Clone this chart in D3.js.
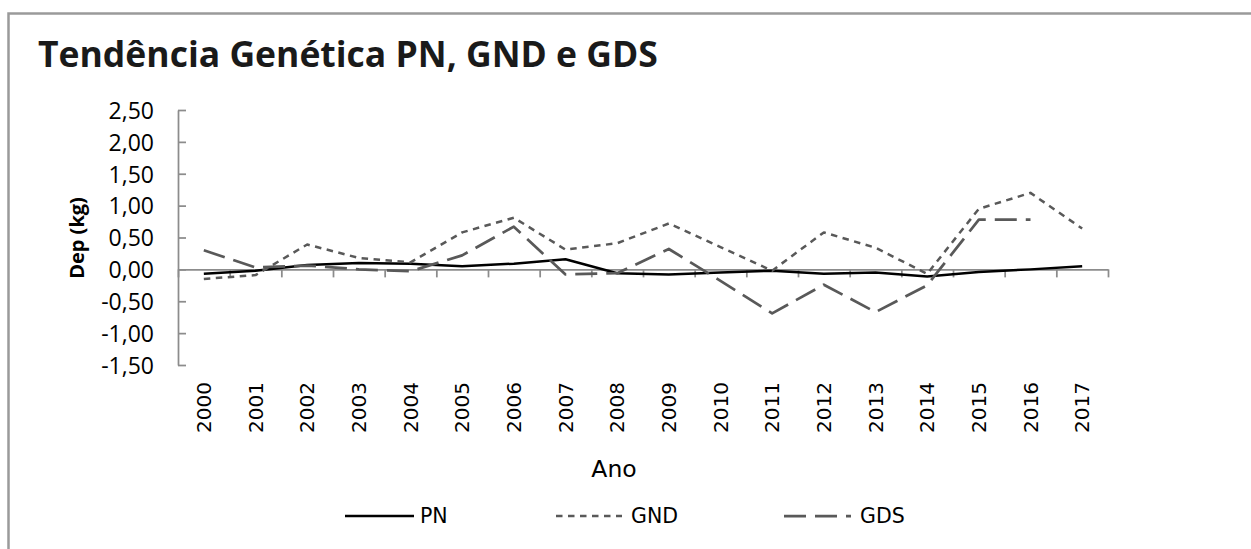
<!DOCTYPE html>
<html>
<head>
<meta charset="utf-8">
<script src="https://cdn.jsdelivr.net/npm/d3@7"></script>
<style>
  html, body { margin: 0; padding: 0; background: #fff; }
  svg { display: block; }
</style>
</head>
<body>
<svg id="chart" width="1251" height="549"></svg>
<script>
// ---- data ----
const years = ["2000","2001","2002","2003","2004","2005","2006","2007","2008","2009","2010","2011","2012","2013","2014","2015","2016","2017"];
const pn  = [-0.07,-0.02,0.07,0.10,0.09,0.05,0.09,0.16,-0.06,-0.08,-0.05,-0.02,-0.07,-0.05,-0.11,-0.04,0.00,0.05];
const gnd = [-0.15,-0.09,0.39,0.18,0.11,0.58,0.81,0.31,0.41,0.72,0.35,-0.02,0.58,0.34,-0.07,0.95,1.20,0.64];
const gds = [0.30,0.03,0.06,0.00,-0.03,0.22,0.67,-0.08,-0.06,0.32,-0.18,-0.69,-0.24,-0.67,-0.25,0.78,0.78,null];
const yTicks = [-1.5,-1.0,-0.5,0.0,0.5,1.0,1.5,2.0,2.5];
const seriesNames = ["PN","GND","GDS"];
const titleText = "Tendência Genética PN, GND e GDS";
const yLabel = "Dep (kg)";
const xLabel = "Ano";

const series = [
  {name: seriesNames[0], values: pn,  color: "#000000", dash: null,       width: 2.5},
  {name: seriesNames[1], values: gnd, color: "#595959", dash: "6.5,5.5",  width: 2.5},
  {name: seriesNames[2], values: gds, color: "#595959", dash: "22,9",     width: 2.75}
];

const svg = d3.select("#chart");
svg.append("rect").attr("width",1251).attr("height",549).attr("fill","#fff");

// outer border
svg.append("rect")
  .attr("x",8.5).attr("y",13.5).attr("width",1400).attr("height",700)
  .attr("fill","none").attr("stroke","#9a9a9a").attr("stroke-width",2.5);

// title
svg.append("text")
  .attr("x",38).attr("y",67)
  .attr("font-family","'Open Sans', sans-serif").attr("font-weight",700)
  .attr("font-size",35.5).attr("fill","#1a1a1a")
  .text(titleText);

const plotL = 178, plotR = 1108, plotT = 110, plotB = 365;
const y = d3.scaleLinear().domain([-1.5, 2.5]).range([plotB, plotT]);
const x = d3.scaleBand().domain(years).range([plotL, plotR]).padding(0);
const xi = d3.scaleLinear().domain([0, years.length]).range([plotL, plotR]);

const loc = d3.formatLocale({decimal:",", thousands:".", grouping:[3], currency:["",""], minus:"-"});
const fmt = loc.format(".2f");

const axisColor = "#8c8c8c";

// y axis
const gy = svg.append("g").attr("transform",`translate(${plotL},0)`)
  .call(d3.axisLeft(y).tickValues(yTicks).tickFormat(fmt).tickSizeInner(-8).tickSizeOuter(0).tickPadding(24));
gy.select(".domain").attr("stroke",axisColor).attr("stroke-width",1.75);
gy.selectAll(".tick line").attr("stroke",axisColor).attr("stroke-width",1.75);
gy.selectAll(".tick text")
  .attr("font-family","'Open Sans', sans-serif").attr("font-size",23).attr("fill","#000")
  .attr("dy","0.36em");

// x axis line at zero with boundary ticks
const gx = svg.append("g").attr("transform",`translate(0,${y(0)})`)
  .call(d3.axisBottom(xi).tickValues(d3.range(years.length+1)).tickFormat("").tickSizeInner(8).tickSizeOuter(0));
gx.select(".domain").attr("stroke",axisColor).attr("stroke-width",1.75);
gx.selectAll(".tick line").attr("stroke",axisColor).attr("stroke-width",1.75);

// x labels (rotated) below plot
const gxl = svg.append("g").attr("transform",`translate(0,${plotB})`)
  .call(d3.axisBottom(x).tickSize(0).tickPadding(0));
gxl.select(".domain").remove();
gxl.selectAll(".tick text")
  .attr("font-family","'DejaVu Sans', sans-serif").attr("font-size",20).attr("fill","#000")
  .attr("transform","rotate(-90)")
  .attr("text-anchor","end")
  .attr("x",-17).attr("y",0).attr("dy","0.36em");

// series
const line = d3.line()
  .defined(d => d.v !== null)
  .x(d => x(d.year) + x.bandwidth()/2)
  .y(d => y(d.v));

series.forEach(s => {
  const pts = years.map((yr,i) => ({year: yr, v: s.values[i]}));
  svg.append("path")
    .datum(pts)
    .attr("d", line)
    .attr("fill","none")
    .attr("stroke", s.color)
    .attr("stroke-width", s.width)
    .attr("stroke-linejoin","round")
    .attr("stroke-dasharray", s.dash);
});

// axis titles
svg.append("text")
  .attr("transform","translate(77,238) rotate(-90)")
  .attr("text-anchor","middle").attr("dy","0.35em")
  .attr("font-family","'Open Sans', sans-serif").attr("font-weight",700)
  .attr("font-size",20).attr("fill","#000")
  .text(yLabel);

svg.append("text")
  .attr("x",614).attr("y",477).attr("text-anchor","middle")
  .attr("font-family","'DejaVu Sans', sans-serif").attr("font-size",23.5).attr("fill","#000")
  .text(xLabel);

// legend
const legendPos = [{x1:345,x2:414,tx:420},{x1:556,x2:622,tx:631},{x1:784,x2:851,tx:860}];
series.forEach((s,i) => {
  const p = legendPos[i];
  svg.append("line")
    .attr("x1",p.x1).attr("x2",p.x2).attr("y1",516).attr("y2",516)
    .attr("stroke",s.color).attr("stroke-width",s.width)
    .attr("stroke-dasharray",s.dash);
  svg.append("text")
    .attr("x",p.tx).attr("y",523)
    .attr("font-family","'DejaVu Sans', sans-serif").attr("font-size",20.5).attr("fill","#000")
    .text(s.name);
});
</script>
</body>
</html>
